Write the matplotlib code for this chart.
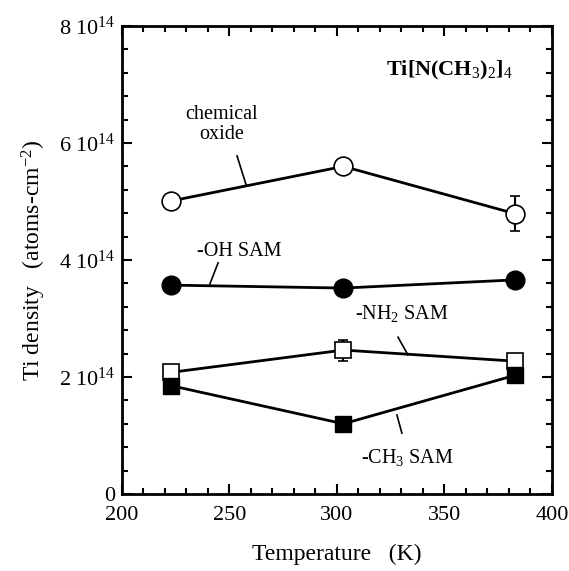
import matplotlib
matplotlib.use("Agg")
import matplotlib.pyplot as plt
from matplotlib.ticker import MultipleLocator, FuncFormatter

plt.rcParams['font.family'] = ['Liberation Serif', 'DejaVu Serif']
plt.rcParams['mathtext.fontset'] = 'custom'
plt.rcParams['mathtext.rm'] = 'Liberation Serif'
plt.rcParams['mathtext.it'] = 'Liberation Serif:italic'
plt.rcParams['mathtext.bf'] = 'Liberation Serif:bold'

# Deposition temperatures (K)
temperature = [223, 303, 383]

# Ti areal density (atoms/cm^2) on each surface
oxide = [5.01e14, 5.60e14, 4.79e14]
oxide_err = [0, 0, 0.30e14]
oh_sam = [3.57e14, 3.52e14, 3.66e14]
nh2_sam = [2.08e14, 2.46e14, 2.27e14]
nh2_err = [0, 0.18e14, 0.10e14]
ch3_sam = [1.85e14, 1.20e14, 2.03e14]
ch3_err = [0, 0, 0.10e14]

fig = plt.figure(figsize=(5.69, 5.71), dpi=100)
ax = fig.add_axes([0.2144, 0.1349, 0.7556, 0.8196])

lw = 2.0
ax.errorbar(temperature, oxide, yerr=oxide_err, color='black', lw=lw,
            marker='o', ms=13.5, mfc='white', mec='black', mew=1.2,
            capsize=3.5, capthick=1.5, elinewidth=1.5, zorder=3)
ax.errorbar(temperature, oh_sam, color='black', lw=lw,
            marker='o', ms=13.5, mfc='black', mec='black', zorder=3)
ax.errorbar(temperature, nh2_sam, yerr=nh2_err, color='black', lw=lw,
            marker='s', ms=12, mfc='white', mec='black', mew=1.2,
            capsize=3.5, capthick=1.5, elinewidth=1.5, zorder=3)
ax.errorbar(temperature, ch3_sam, yerr=ch3_err, color='black', lw=lw,
            marker='s', ms=12, mfc='black', mec='black',
            capsize=3.5, capthick=1.5, elinewidth=1.5, zorder=4)

ax.set_xlim(200, 400)
ax.set_ylim(0, 8e14)
ax.xaxis.set_major_locator(MultipleLocator(50))
ax.xaxis.set_minor_locator(MultipleLocator(10))
ax.yaxis.set_major_locator(MultipleLocator(2e14))
ax.yaxis.set_minor_locator(MultipleLocator(0.4e14))


def ylab(v, pos):
    n = int(round(v / 1e14))
    if n == 0:
        return "0"
    return r"$%d\ 10^{14}$" % n


ax.yaxis.set_major_formatter(FuncFormatter(ylab))
ax.tick_params(which='both', direction='in', top=True, right=True, width=1.5)
ax.tick_params(which='major', length=7, labelsize=16)
ax.tick_params(axis='x', which='major', pad=9)
ax.tick_params(axis='y', which='major', pad=5)
ax.tick_params(which='minor', length=4)
for s in ax.spines.values():
    s.set_linewidth(2)

ax.set_xlabel("Temperature   (K)", fontsize=17, labelpad=13)
ax.set_ylabel(r"Ti density   (atoms-cm$^{-2}$)", fontsize=17, labelpad=8)

ax.text(0.909, 0.905, r"Ti[N(CH$_3$)$_2$]$_4$", transform=ax.transAxes,
        fontsize=16, fontweight='bold', ha='right', va='center')

# Curve labels with leader lines
ax.text(246.5, 6.31e14, "chemical\noxide", fontsize=14.5, ha='center',
        va='center', linespacing=1.05)
ax.plot([253.5, 257.7], [5.78e14, 5.29e14], color='black', lw=1.2)
ax.text(254.6, 4.14e14, "-OH SAM", fontsize=14.5, ha='center', va='center')
ax.plot([244.7, 240.9], [3.95e14, 3.59e14], color='black', lw=1.2)
ax.text(330, 3.09e14, r"-NH$_2$ SAM", fontsize=14.5, ha='center', va='center')
ax.plot([328.4, 333], [2.68e14, 2.38e14], color='black', lw=1.2)
ax.text(332.6, 0.62e14, r"-CH$_3$ SAM", fontsize=14.5, ha='center', va='center')
ax.plot([327.9, 330.2], [1.35e14, 1.04e14], color='black', lw=1.2)

fig.savefig("out.png", dpi=100)
